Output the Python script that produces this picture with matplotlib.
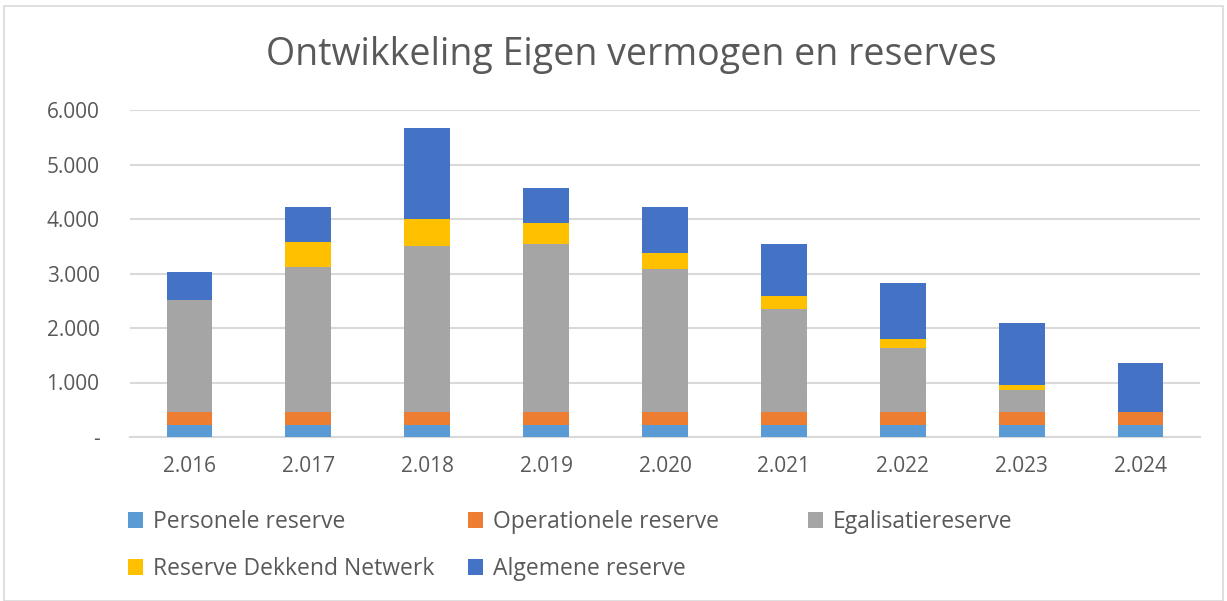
import numpy as np
import matplotlib as mpl
import matplotlib.pyplot as plt
from matplotlib.patches import Rectangle

mpl.rcParams['font.family'] = ['Open Sans', 'DejaVu Sans']

years = ['2.016', '2.017', '2.018', '2.019', '2.020', '2.021', '2.022', '2.023', '2.024']
personele = [220, 220, 220, 220, 220, 220, 220, 220, 220]
operationele = [240, 240, 240, 240, 240, 240, 240, 240, 240]
egalisatie = [2050, 2660, 3040, 3080, 2615, 1885, 1175, 400, 0]
dekkend = [0, 450, 500, 390, 310, 245, 155, 90, 0]
algemeen = [520, 655, 1675, 645, 840, 945, 1030, 1135, 900]
yticks = [0, 1000, 2000, 3000, 4000, 5000, 6000]
ylabels = ['-', '1.000', '2.000', '3.000', '4.000', '5.000', '6.000']

series = [('Personele reserve', personele, '#5B9BD5'),
          ('Operationele reserve', operationele, '#ED7D31'),
          ('Egalisatiereserve', egalisatie, '#A5A5A5'),
          ('Reserve Dekkend Netwerk', dekkend, '#FFC000'),
          ('Algemene reserve', algemeen, '#4472C4')]

W, H = 1227, 601
fig = plt.figure(figsize=(W/100, H/100), dpi=100)
ax = fig.add_axes([130/W, 1-437/H, 1070/W, 327/H])

x = np.arange(len(years))
bottom = np.zeros(len(years))
handles = {}
for name, vals, col in series:
    b = ax.bar(x, vals, 0.385, bottom=bottom, color=col, label=name, zorder=3)
    handles[name] = b
    bottom += np.array(vals)

ax.set_xlim(-0.5, len(years) - 0.5)
ax.set_ylim(0, 6000)
ax.set_yticks(yticks)
ax.set_yticklabels(ylabels)
ax.set_xticks(x)
ax.set_xticklabels(years)
ax.yaxis.grid(True, color='#D9D9D9', lw=1.5, zorder=0)
for s in ['top', 'right', 'left']:
    ax.spines[s].set_visible(False)
ax.spines['bottom'].set_color('#D9D9D9')
ax.spines['bottom'].set_linewidth(1.5)
ax.tick_params(length=0, labelsize=15, colors='#595959', pad=14)
ax.tick_params(axis='y', pad=22)

fig.text(631/W, 1-55/H, 'Ontwikkeling Eigen vermogen en reserves', ha='center', va='center',
         fontsize=27, color='#595959')

# legend entries placed one by one, like the Excel layout
legpos = {'Personele reserve': (128, 522),
          'Operationele reserve': (468, 522),
          'Egalisatiereserve': (808, 522),
          'Reserve Dekkend Netwerk': (128, 569),
          'Algemene reserve': (468, 569)}
for name, (lx, ly) in legpos.items():
    fig.legend([handles[name]], [name], loc='center left', bbox_to_anchor=(lx/W, 1-ly/H),
               frameon=False, fontsize=16.5, labelcolor='#595959', handlelength=0.65,
               handleheight=0.65, handletextpad=0.45, borderpad=0, borderaxespad=0)

fig.patches.append(Rectangle((4/W, 0), 1-8/W, 1-6/H, transform=fig.transFigure,
                             fill=False, edgecolor='#D9D9D9', lw=1.2))

plt.savefig('out.png', dpi=100)
